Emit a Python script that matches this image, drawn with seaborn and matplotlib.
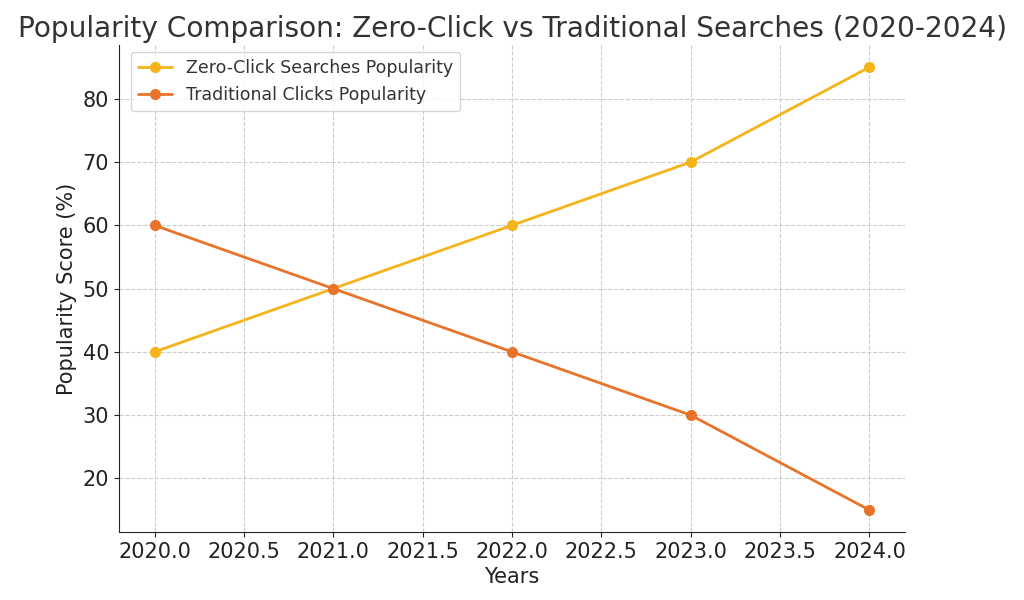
import seaborn as sns
import pandas as pd
import matplotlib.pyplot as plt

years = [2020, 2021, 2022, 2023, 2024]
zero_click = [40, 50, 60, 70, 85]
traditional = [60, 50, 40, 30, 15]

df = pd.DataFrame({
    "Years": years * 2,
    "Score": zero_click + traditional,
    "Series": ["Zero-Click Searches Popularity"] * len(years)
              + ["Traditional Clicks Popularity"] * len(years),
})

sns.set_style("ticks")
plt.rcParams["font.family"] = ["DejaVu Sans"]

fig, ax = plt.subplots(figsize=(10.24, 6), dpi=100)
sns.lineplot(data=df, x="Years", y="Score", hue="Series",
             palette=["#F4B41A", "#E8732A"], marker="o", markersize=8,
             markeredgewidth=0, linewidth=2, ax=ax)

ax.grid(True, linestyle="--", color="#cccccc", linewidth=0.8)
ax.set_axisbelow(True)
sns.despine(ax=ax)
ax.set_title("Popularity Comparison: Zero-Click vs Traditional Searches (2020-2024)",
             fontsize=20.2, color="#333333")
ax.set_xlabel("Years", fontsize=15, color="#222222")
ax.set_ylabel("Popularity Score (%)", fontsize=15, color="#222222")
ax.tick_params(labelsize=15, colors="#222222")
ax.legend(title=None, fontsize=12.5, loc="upper left", labelcolor="#333333",
          bbox_to_anchor=(0.004, 1.003))

fig.subplots_adjust(left=0.116, right=0.884, top=0.925, bottom=0.113)
fig.savefig("out.png")
